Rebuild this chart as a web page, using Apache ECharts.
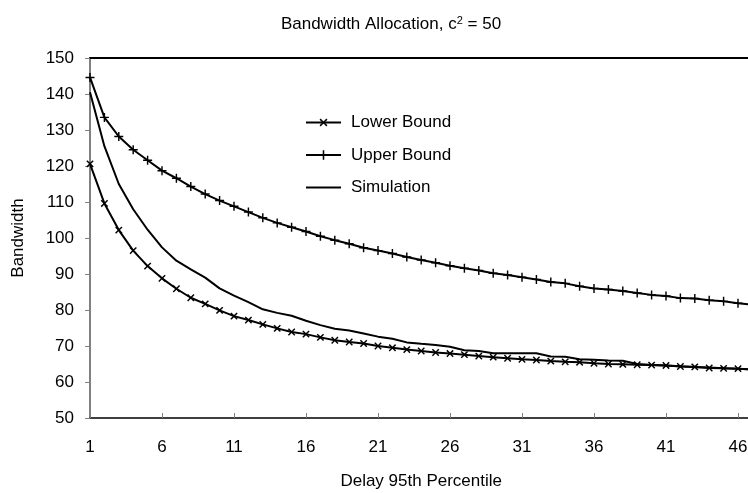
<!DOCTYPE html>
<html>
<head>
<meta charset="utf-8">
<script src="https://cdn.jsdelivr.net/npm/echarts@6/dist/echarts.min.js"></script>
<style>
  html, body { margin: 0; padding: 0; background: #fff; }
  #chart { width: 748px; height: 493px; }
</style>
</head>
<body>
<div id="chart"></div>
<script>
// x categories: delay 95th percentile
var delays = [];
for (var i = 1; i <= 47; i++) delays.push(String(i));

// values
var lowerBound = [120.6, 109.6, 102.2, 96.5, 92.2, 88.8, 85.9, 83.4, 81.7, 79.9,
    78.3, 77.2, 76.0, 74.9, 73.9, 73.3, 72.4, 71.6, 71.1, 70.7,
    70.0, 69.5, 69.0, 68.6, 68.2, 67.9, 67.6, 67.2, 66.9, 66.6,
    66.3, 66.1, 65.8, 65.6, 65.5, 65.2, 65.0, 64.9, 64.8, 64.7,
    64.6, 64.3, 64.2, 63.9, 63.8, 63.7, 63.5];
var upperBound = [144.6, 133.5, 128.2, 124.5, 121.6, 118.7, 116.6, 114.3, 112.2, 110.4,
    108.8, 107.2, 105.6, 104.2, 103.0, 101.8, 100.5, 99.4, 98.4, 97.3,
    96.5, 95.7, 94.7, 93.9, 93.1, 92.3, 91.6, 91.0, 90.2, 89.7,
    89.1, 88.5, 87.8, 87.4, 86.6, 86.0, 85.7, 85.3, 84.7, 84.2,
    83.9, 83.3, 83.2, 82.7, 82.4, 81.9, 81.5];
var simulation = [140.5, 125.5, 115.0, 108.0, 102.3, 97.4, 93.7, 91.3, 89.0, 86.0,
    84.0, 82.2, 80.2, 79.2, 78.4, 77.0, 75.8, 74.8, 74.3, 73.5,
    72.6, 72.0, 71.0, 70.6, 70.3, 69.8, 68.8, 68.6, 68.0, 68.0,
    68.0, 68.0, 67.1, 67.0, 66.3, 66.2, 66.0, 65.9, 65.0, 64.7,
    64.6, 64.4, 64.2, 64.0, 63.8, 63.7, 63.5];

var FONT = 'Liberation Sans, Arial, sans-serif';
var plus = 'path://M-0.8,-5H0.8V-0.8H5V0.8H0.8V5H-0.8V0.8H-5V-0.8H-0.8Z';

var chart = echarts.init(document.getElementById('chart'));

var option = {
    animation: false,
    backgroundColor: '#fff',
    title: {
        text: 'Bandwidth Allocation, c{sup|2} = 50',
        left: 386,
        textAlign: 'center',
        top: 10,
        textStyle: {
            fontFamily: FONT, fontSize: 17, fontWeight: 'normal', color: '#000',
            rich: { sup: { fontFamily: FONT, fontSize: 11, verticalAlign: 'top', padding: [0, 0, 8, 0], color: '#000' } }
        }
    },
    legend: {
        orient: 'vertical',
        left: 305,
        top: 114,
        padding: 0,
        itemWidth: 35,
        itemHeight: 12,
        itemGap: 15.5,
        textStyle: { fontFamily: FONT, fontSize: 17, color: '#000', padding: [0, 0, 0, 5] },
        data: ['Lower Bound', 'Upper Bound', 'Simulation']
    },
    grid: { left: 90, top: 58, bottom: 75, right: -4.4, outerBoundsMode: 'none' },
    xAxis: [{
        type: 'category',
        data: delays,
        boundaryGap: false,
        name: 'Delay 95th Percentile',
        nameLocation: 'middle',
        nameGap: 55,
        nameTextStyle: { fontFamily: FONT, fontSize: 17, color: '#000' },
        axisLine: { lineStyle: { color: '#404040', width: 2 } },
        axisTick: { inside: true, interval: 4, length: 5, lineStyle: { color: '#808080' } },
        axisLabel: { interval: 4, margin: 21, fontFamily: FONT, fontSize: 17, color: '#000' },
        splitLine: { show: false }
    }, {
        type: 'category',
        position: 'top',
        data: delays,
        boundaryGap: false,
        axisLine: { lineStyle: { color: '#000', width: 2 } },
        axisTick: { show: false },
        axisLabel: { show: false }
    }],
    yAxis: {
        type: 'value',
        min: 50,
        max: 150,
        interval: 10,
        name: 'Bandwidth',
        nameLocation: 'middle',
        nameGap: 63,
        nameTextStyle: { fontFamily: FONT, fontSize: 17, color: '#000' },
        axisLine: { show: true, lineStyle: { color: '#808080', width: 2 } },
        axisTick: { show: true, length: 5, lineStyle: { color: '#808080' } },
        axisLabel: { margin: 16, fontFamily: FONT, fontSize: 17, color: '#000' },
        splitLine: { show: false }
    },
    series: [{
        name: 'Lower Bound',
        type: 'line',
        data: lowerBound,
        symbol: plus,
        symbolRotate: 45,
        symbolSize: 9,
        showAllSymbol: true,
        lineStyle: { color: '#000', width: 2 },
        itemStyle: { color: '#000' }
    }, {
        name: 'Upper Bound',
        type: 'line',
        data: upperBound,
        symbol: plus,
        symbolSize: 9,
        showAllSymbol: true,
        lineStyle: { color: '#000', width: 2 },
        itemStyle: { color: '#000' }
    }, {
        name: 'Simulation',
        type: 'line',
        data: simulation,
        symbol: 'circle',
        showSymbol: false,
        lineStyle: { color: '#000', width: 2 },
        itemStyle: { color: 'rgba(0,0,0,0)' }
    }]
};

chart.setOption(option);
</script>
</body>
</html>
